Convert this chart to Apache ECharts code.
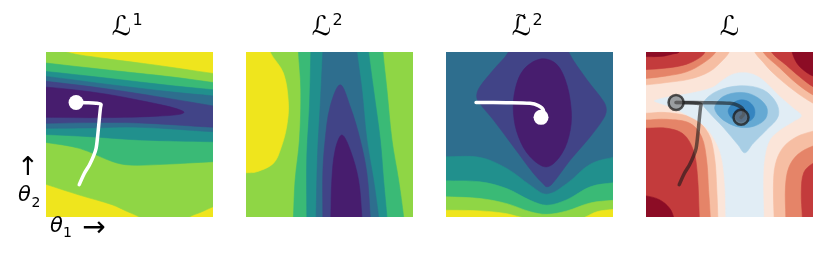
<!DOCTYPE html>
<html><head><meta charset="utf-8">
<script src="https://cdn.jsdelivr.net/npm/echarts@6/dist/echarts.min.js"></script>
<style>html,body{margin:0;padding:0;background:#fff}#c{width:830px;height:259px}</style>
</head><body><div id="c"></div>
<script>
// ================= DATA =================
// panel titles
const titleBase = ['ℒ', 'ℒ', 'ℒ', 'ℒ'];
const titleSup = ['1', '2', '2', ''];
const titleTilde = [false, false, true, false];
// axis labels (theta-1 right, theta-2 up)
const axisSymbol = 'θ';
const axisSubs = ['1', '2'];

// contour regions in (theta1, theta2) space, 0..100 on each axis;
// each entry: [level index, x0,y0, x1,y1, ...]
const bgLevel = [6, 5, 2, 5];
const contourL1 = [
  [5, [-5,104, 8,104, 12,100, 36,96, 66,92, 100,87, 105,86.5, 105,8, 100,6.2, 93,3, 85.8,0, 83,-3, 60,-3, 56,0, 48,3.6, 40,7.3, 20,13.3, 0,19.8, -5,21.5]],
  [4, [-5,94, 0,93.3, 36,89.2, 76,84.8, 100,81.5, 105,80.8, 105,33.5, 100,33.5, 70,31.9, 50,31.5, 40,33.5, 20,41.6, 0,45.2, -5,46]],
  [3, [-5,88.5, 0,88.2, 36,84.2, 76,79.5, 100,77.1, 105,76.5, 105,45.6, 100,45.6, 56,46.7, 26,48.7, 0,50, -5,50]],
  [2, [-5,85.4, 0,85.2, 36,80.5, 76,75.7, 100,73.4, 105,73, 105,51.7, 100,51.7, 56,54.4, 26,54, 0,53.8, -5,53.8]],
  [1, [-5,82.4, 0,82.2, 36,77.7, 76,71.4, 100,67.3, 105,66.5, 105,54.4, 100,54.4, 56,57, 26,57.2, 0,56.8, -5,56.8]],
  [0, [-5,78.7, 0,78.7, 16.4,77.1, 36.4,74.4, 56.4,70.6, 72.4,67.2, 80,65, 82.6,63.5, 80,62.2, 66.4,61.1, 46.4,60.4, 26.4,60.2, 0,60.4, -5,60.4]]
];
const contourL2 = [
  [6, [-5,105, 14,105, 14.4,100, 22.4,87.2, 25.4,69, 24.4,55, 21,42, 16.4,32.5, 6.4,27.4, 0,26.8, -5,26.8]],
  [4, [31.2,105, 31.4,100, 32.8,77.1, 32,46.7, 29.4,22.3, 28.4,0, 28.2,-5, 94.6,-5, 94.4,0, 91.4,22.3, 87.4,46.7, 84.4,77.1, 82,100, 81.8,105]],
  [3, [38.9,105, 38.8,100, 38,66.9, 36.4,36.5, 36.4,0, 36.4,-5, 84.6,-5, 84.4,0, 82.4,22.3, 80.4,46.7, 76.4,77.1, 73.4,100, 73,105]],
  [2, [46.1,105, 46,100, 44.4,66.9, 42.8,36.5, 42,0, 42,-5, 79.6,-5, 79.4,0, 76.4,22.3, 72.4,46.7, 69.4,77.1, 66.4,100, 66,105]],
  [1, [56.4,80.1, 62.4,66.9, 68.4,46.7, 72.4,26.4, 74.4,0, 74.6,-5, 45.8,-5, 46,0, 46,26.4, 47.4,46.7, 50.4,66.9]],
  [0, [57.4,49.7, 62.4,40.6, 67.4,22.3, 69.4,0, 69.6,-5, 50.6,-5, 50.8,0, 51.4,22.3, 53.4,40.6]]
];
const contourL2tilde = [
  [3, [-5,36.5, 0,36.5, 20.4,36.1, 36.4,29.4, 50.4,19.3, 60.4,13.8, 72.4,20.3, 86.4,32, 100,36.1, 105,36.1, 105,-5, -5,-5]],
  [4, [-5,21.9, 0,21.9, 20.4,21.3, 36.4,17.2, 50.4,10.1, 60.4,7.1, 72.4,10.5, 86.4,18.3, 100,20.7, 105,20.7, 105,-5, -5,-5]],
  [5, [-5,12.2, 0,12.2, 20.4,11.2, 36.4,8.1, 50.4,3.2, 60.4,1.6, 72.4,3.7, 86.4,8.5, 100,10.1, 105,10.1, 105,-5, -5,-5]],
  [6, [-5,4.1, 0,4.1, 20.4,3.7, 36.4,2, 48.4,-1, 60.4,-2, 80.4,-1, 90.4,3.2, 100,4.5, 105,4.5, 105,-8, -5,-8]],
  [1, [37.2,105, 37.4,100, 28.4,89.2, 20.4,79.1, 18.4,74, 19.4,70, 28.4,58.8, 40.4,42.6, 52.4,26.4, 58.4,19.9, 60.4,18.3, 63.4,19.9, 74.4,34.5, 86.4,48.7, 94.4,59.8, 96,64.9, 94.4,70, 84.4,83.2, 73.4,100, 73.6,105]],
  [0, [56.4,95.7, 46.4,89.2, 41.4,77.1, 40.4,62.9, 43.4,48.7, 50.4,36.5, 60.4,30.4, 69.4,38.5, 74.4,52.7, 74.8,66.9, 71.4,83.2, 65.4,93.3]]
];
const contourL = [
  // top-left high corner
  [6, [-5,80.1, 0,80.1, 12.4,81.5, 26.3,83.6, 38.2,88.2, 46.2,95.3, 49.8,100, 51,106, -5,106]],
  [7, [-5,84, 0,84, 12.4,85.5, 24.3,88, 34.3,93.3, 41.8,100, 43,106, -5,106]],
  [8, [-5,89.4, 0,89.4, 12.4,90.3, 24,92.5, 32,96.5, 35.3,100, 36,106, -5,106]],
  [9, [-5,97.2, 0,97.2, 10,97.4, 16,98.8, 19.9,100, 21,106, -5,106]],
  // top-right high corner
  [6, [64,106, 65.1,100, 70,94, 76.1,87.2, 88,77.1, 100,69, 106,67, 106,106]],
  [7, [69.5,106, 70.1,100, 80.1,90.3, 90,81.1, 100,74, 106,72, 106,106]],
  [8, [74.5,106, 75.1,100, 84,92, 92,85, 100,79, 106,77, 106,106]],
  [9, [87,106, 87.5,100, 90.5,93, 95,88.5, 100,85.5, 106,84.5, 106,106]],
  // bottom-left high corner
  [6, [-5,62.9, 0,62.9, 12.4,63.3, 28.3,59.8, 37.3,50.7, 41,36.5, 42.4,16.2, 43,0, 43,-5, -5,-5]],
  [7, [-5,58.8, 0,58.8, 12.4,59.2, 26.3,56.8, 33.3,48.7, 36.3,34.5, 37.5,16.2, 38.5,0, 38.5,-5, -5,-5]],
  [8, [-5,53.8, 0,53.8, 12.4,53.8, 22.3,50.3, 28.3,40.6, 30.7,26.4, 31.9,0, 32,-5, -5,-5]],
  [9, [-5,12.8, 0,12.8, 8,10.5, 14,5.5, 16.5,0, 17,-5, -5,-5]],
  // bottom-right high corner
  [6, [76.7,-5, 76.7,0, 76.3,18, 77.5,32, 82,42, 90,48.5, 100,52, 106,53, 106,-5]],
  [7, [83.7,-5, 83.7,0, 83.5,18, 85.5,30, 91,38, 100,43, 106,44, 106,-5]],
  [8, [93.6,-5, 93.6,0, 93,15, 94.5,27, 100,32.5, 106,34, 106,-5]],
  // central low valley
  [4, [5,70.4, 12,72.5, 25.9,74.8, 39.8,78.5, 46,83, 52,86.5, 58,87.5, 64,86.5, 70,83, 80.1,73, 88,66, 93,61.3, 88,57.8, 80.1,52.7, 74.1,46.7, 71.1,36.5, 70.1,22.3, 70.5,0, 70.5,-5, 47.8,-5, 47.8,0, 47.2,20.3, 45.2,36.5, 41.2,46.7, 34.3,55.8, 24.3,61.9, 14.3,66.9, 6.4,69.6]],
  [3, [34.3,69, 42.2,76.1, 56.2,79.5, 70.1,77.1, 78.1,69, 79.1,60.9, 72.1,52.7, 64.1,44.6, 59.2,38.9, 55.2,43.6, 46.2,54.4, 37.3,63.9]],
  [2, [41.2,66.9, 46.2,73, 56.2,75.5, 65.1,73.4, 72.1,66.9, 71.7,59.8, 65.1,55.2, 56.2,54.4, 47.8,57.8, 42.6,62.5]],
  [1, [49.2,63.9, 52.2,69, 57.2,71, 62.2,69.4, 65.1,64.9, 64.1,59.8, 59.2,57.2, 53.2,58.2]],
  [0, [53.2,63.9, 56.2,65.9, 59.8,64.5, 60.6,60.4, 57.2,57.8, 53.8,59.6]]
];

// optimisation trajectories (theta1, theta2)
const pathStage1 = [[19.9,19.6],[23,26.5],[26,31.5],[28.5,37],[30,41.6],[31,49.7],[31.8,58],[32.6,66],[33,68.2],[30,69],[24.4,69.3],[18,69.4]];
const pathStage2 = [[18,69.4],[36.3,69.3],[50.3,68.9],[55.3,67.5],[58.3,64.8],[58.5,62.5],[56.9,60.4]];

// ================= STYLE / LAYOUT =================
const viridis = ['#471d6e', '#414487', '#2e6e8e', '#21908d', '#3aba76', '#8fd645', '#efe51d'];
const rdbu = ['#2164a9', '#3585c0', '#65a9d3', '#a8cee5', '#e1edf5', '#fbe5d9', '#f6bea3', '#e58468', '#c33b3c', '#8c0c25'];
const panelLeft = [46, 246, 446, 646];
const panelTop = 52, panelW = 167, panelH = 165;
const panelContours = [contourL1, contourL2, contourL2tilde, contourL];
const panelColors = [viridis, viridis, viridis, rdbu];

function makeRender(regions, bg, colors) {
  return function (params, api) {
    const k = params.dataIndex;
    if (k === 0) {
      const a = api.coord([0, 100]), b = api.coord([100, 0]);
      return { type: 'rect', shape: { x: a[0], y: a[1], width: b[0] - a[0], height: b[1] - a[1] }, style: { fill: colors[bg] } };
    }
    const r = regions[k - 1];
    const pts = [];
    for (let j = 0; j < r[1].length; j += 2) pts.push(api.coord([r[1][j], r[1][j + 1]]));
    return { type: 'polygon', shape: { points: pts, smooth: 0.35 }, style: { fill: colors[r[0]], stroke: colors[r[0]], lineWidth: 0.6 } };
  };
}

const grids = [], xAxes = [], yAxes = [], series = [];
for (let i = 0; i < 4; i++) {
  grids.push({ left: panelLeft[i], top: panelTop, width: panelW, height: panelH });
  xAxes.push({ type: 'value', gridIndex: i, min: 0, max: 100, show: false });
  yAxes.push({ type: 'value', gridIndex: i, min: 0, max: 100, show: false });
  const regions = panelContours[i];
  series.push({
    type: 'custom', xAxisIndex: i, yAxisIndex: i, clip: true, silent: true, z: 1,
    renderItem: makeRender(regions, bgLevel[i], panelColors[i]),
    data: [[0, 0]].concat(regions.map((r, k) => [k + 1, 0]))
  });
}
const whiteLine = { color: '#ffffff', width: 3.5, cap: 'round', join: 'round' };
const darkLine = { color: 'rgba(25,25,25,0.6)', width: 3.5, cap: 'round', join: 'round' };
function pathSeries(i, data, ls) {
  return { type: 'line', xAxisIndex: i, yAxisIndex: i, data: data, smooth: 0.3, symbol: 'none', lineStyle: ls, z: 3, silent: true };
}
function dotSeries(i, pt, style) {
  return { type: 'scatter', xAxisIndex: i, yAxisIndex: i, data: [pt], symbolSize: 15, itemStyle: style, z: 4, silent: true };
}
const whiteDot = { color: '#ffffff', opacity: 1 };
const greyDot = { color: 'rgba(115,115,115,0.65)', borderColor: 'rgba(30,30,30,0.75)', borderWidth: 2.5, opacity: 1 };
series.push(pathSeries(0, pathStage1, whiteLine));
series.push(dotSeries(0, pathStage1[pathStage1.length - 1], whiteDot));
series.push(pathSeries(2, pathStage2, whiteLine));
series.push(dotSeries(2, pathStage2[pathStage2.length - 1], whiteDot));
series.push(pathSeries(3, pathStage1, darkLine));
series.push(pathSeries(3, pathStage2, darkLine));
series.push(dotSeries(3, pathStage1[pathStage1.length - 1], greyDot));
series.push(dotSeries(3, pathStage2[pathStage2.length - 1], greyDot));

function txt(x, y, text, size, extra) {
  return { type: 'text', x: x, y: y, silent: true, z: 10,
    style: Object.assign({ text: text, fill: '#000', fontSize: size, fontFamily: 'DejaVu Sans',
      align: 'center', verticalAlign: 'middle', textAlign: 'center', textVerticalAlign: 'middle' }, extra || {}) };
}
const graphics = [];
for (let i = 0; i < 4; i++) {
  const cx = panelLeft[i] + panelW / 2;
  const hasSup = titleSup[i] !== '';
  const lx = hasSup ? cx - 8 : cx;
  graphics.push(txt(lx, 28, titleBase[i], 27));
  if (hasSup) graphics.push(txt(cx + 3, 21, titleSup[i], 16, { align: 'left', textAlign: 'left' }));
  if (titleTilde[i]) graphics.push(txt(lx - 1, 16, '~', 14));
}
graphics.push(txt(28, 168, '↑', 26));
graphics.push(txt(24.5, 196, axisSymbol, 21, { fontStyle: 'italic' }));
graphics.push(txt(36, 203, axisSubs[1], 14));
graphics.push(txt(56.5, 227, axisSymbol, 21, { fontStyle: 'italic' }));
graphics.push(txt(67.5, 233, axisSubs[0], 14));
graphics.push(txt(94, 229, '→', 28));

const chart = echarts.init(document.getElementById('c'), null, { renderer: 'canvas' });
chart.setOption({
  animation: false,
  backgroundColor: '#ffffff',
  grid: grids, xAxis: xAxes, yAxis: yAxes,
  series: series,
  graphic: graphics
});
</script>
</body></html>
